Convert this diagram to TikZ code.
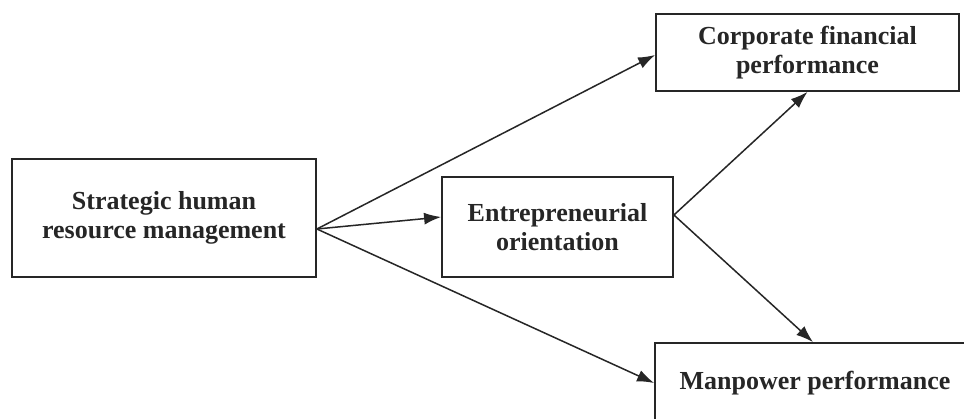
\documentclass[tikz,border=0pt]{standalone}
\usepackage{fontspec}
\setmainfont{Liberation Serif}
\usetikzlibrary{arrows.meta}
\begin{document}
\begin{tikzpicture}[x=1pt,y=-1pt,
  box/.style={draw=black!85,line width=1.8pt,rectangle,inner sep=0pt,align=center,
    font=\fontsize{26}{29.5}\selectfont\bfseries,text=black!85},
  arr/.style={draw=black!85,line width=1.5pt,-{Latex[length=17pt,width=12pt]}}]
\useasboundingbox (0,0) rectangle (964,418);
\clip (0,0) rectangle (964,418);
\fill[white] (0,0) rectangle (964,418);
\node[box,minimum width=304pt,minimum height=118pt] (shrm) at (164,218) {Strategic human\\resource management};
\node[box,minimum width=231pt,minimum height=100pt] (eo) at (557.5,227) {Entrepreneurial\\orientation};
\node[box,minimum width=303pt,minimum height=77pt] (cfp) at (807.5,52.5) {Corporate financial\\performance};
\node[box,minimum width=320pt,minimum height=80pt] (mp) at (815,383) {Manpower performance};
\coordinate (s0) at ([yshift=-11pt]shrm.east);
\coordinate (e0) at ([yshift=12pt]eo.east);
\draw[arr] (s0) -- ([yshift=-2.5pt]cfp.west);
\draw[arr] (s0) -- ([yshift=10pt]eo.west);
\draw[arr] (s0) -- (mp.west);
\draw[arr] (e0) -- (cfp.south);
\draw[arr] (e0) -- ([xshift=-2pt]mp.north);
\end{tikzpicture}
\end{document}
